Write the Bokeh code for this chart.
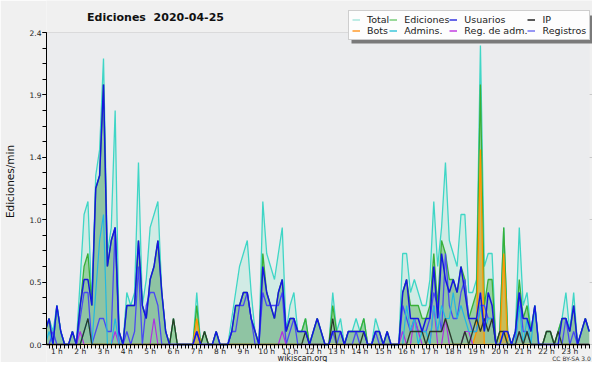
import numpy as np
from bokeh.plotting import figure
from bokeh.models import (Range1d, FixedTicker, Legend, LegendItem, Label, BoxAnnotation)
from bokeh.embed import file_html
from bokeh.resources import INLINE

# ---- data: edits/min in 10-minute bins, 0:00 .. 23:50 (one row per hour) ----
total = [
    0, 0, 0, 0.1, 0.2, 0.1,
    0.3, 0.1, 0, 0, 0.1, 0,
    0.5, 1.0, 1.1, 0.3, 1.3, 1.5,
    2.2, 0.7, 0.9, 1.8, 0.1, 0,
    0.4, 0.3, 0.4, 1.4, 0.3, 0.5,
    0.9, 1.0, 1.1, 0.4, 0.1, 0,
    0.2, 0, 0, 0, 0, 0,
    0.4, 0, 0.1, 0, 0, 0.1,
    0, 0, 0, 0.2, 0.4, 0.6,
    0.7, 0.8, 0.4, 0.1, 0, 1.1,
    0.7, 0.6, 0.5, 0.7, 0.9, 0.1,
    0.3, 0.4, 0.1, 0.1, 0.2, 0,
    0.1, 0.2, 0.1, 0, 0, 0.4,
    0.1, 0.2, 0, 0.1, 0.1, 0.2,
    0.1, 0.2, 0, 0, 0.2, 0.1,
    0, 0.1, 0, 0, 0, 0.7,
    0.7, 0.4, 0.5, 0.4, 0.3, 0.3,
    0.5, 1.1, 0.6, 0.9, 1.4, 0.8,
    0.7, 0.6, 1.0, 1.0, 0.4, 0.4,
    0.5, 2.3, 0.6, 0.7, 0.7, 0,
    0.1, 0.9, 0.1, 0, 0.1, 0.9,
    0.3, 0.4, 0.1, 0.3, 0, 0,
    0.1, 0.1, 0, 0.1, 0.2, 0.4,
    0.1, 0.4, 0, 0.1, 0.2, 0.1,
]
ediciones = [
    0, 0, 0, 0.1, 0.2, 0,
    0.3, 0.1, 0, 0, 0.1, 0,
    0.3, 0.6, 0.7, 0.3, 1.2, 1.3,
    2.0, 0.6, 0.8, 0.9, 0.1, 0,
    0.3, 0.3, 0.3, 0.8, 0.3, 0.2,
    0.5, 0.6, 0.8, 0.4, 0.1, 0,
    0.2, 0, 0, 0, 0, 0,
    0.3, 0, 0.1, 0, 0, 0.1,
    0, 0, 0, 0.1, 0.3, 0.3,
    0.4, 0.4, 0.2, 0.1, 0, 0.7,
    0.4, 0.3, 0.2, 0.4, 0.5, 0.1,
    0.2, 0.2, 0.1, 0.1, 0.2, 0,
    0.1, 0.2, 0.1, 0, 0, 0.3,
    0.1, 0.1, 0, 0.1, 0.1, 0.1,
    0.1, 0.2, 0, 0, 0.1, 0.1,
    0, 0.1, 0, 0, 0, 0.4,
    0.5, 0.3, 0.3, 0.3, 0.2, 0.2,
    0.3, 0.7, 0.3, 0.8, 0.7, 0.5,
    0.5, 0.4, 0.6, 0.5, 0.2, 0.3,
    0.4, 2.0, 0.3, 0.5, 0.5, 0,
    0.1, 0.9, 0.1, 0, 0.1, 0.5,
    0.2, 0.3, 0.1, 0.3, 0, 0,
    0.1, 0.1, 0, 0.1, 0.2, 0.2,
    0.1, 0.3, 0, 0.1, 0.2, 0.1,
]
usuarios = [
    0, 0, 0, 0.1, 0.2, 0,
    0.3, 0.1, 0, 0, 0.1, 0,
    0.3, 0.5, 0.5, 0.3, 1.2, 1.3,
    2.0, 0.6, 0.8, 0.9, 0.1, 0,
    0.3, 0.3, 0.3, 0.8, 0.3, 0.2,
    0.5, 0.6, 0.8, 0.4, 0.1, 0,
    0, 0, 0, 0, 0, 0,
    0.1, 0, 0, 0, 0, 0.1,
    0, 0, 0, 0.1, 0.3, 0.3,
    0.4, 0.4, 0.2, 0.1, 0, 0.6,
    0.4, 0.3, 0.2, 0.4, 0.5, 0.1,
    0.2, 0.2, 0.1, 0.1, 0.1, 0,
    0.1, 0.2, 0.1, 0, 0, 0.1,
    0.1, 0.1, 0, 0.1, 0.1, 0.1,
    0.1, 0.1, 0, 0, 0.1, 0.1,
    0, 0.1, 0, 0, 0, 0.4,
    0.5, 0.2, 0.2, 0.2, 0.1, 0.2,
    0.2, 0.6, 0.2, 0.7, 0.5, 0.4,
    0.5, 0.4, 0.6, 0.4, 0.2, 0.2,
    0.2, 0.4, 0.1, 0.4, 0.3, 0,
    0, 0.1, 0.1, 0, 0.1, 0.4,
    0.2, 0.2, 0.1, 0.3, 0, 0,
    0, 0, 0, 0, 0.2, 0.2,
    0.1, 0.3, 0, 0.1, 0.2, 0.1,
]
ip = [
    0, 0, 0, 0, 0, 0,
    0, 0, 0, 0, 0, 0,
    0, 0.1, 0.2, 0, 0, 0,
    0, 0, 0, 0, 0, 0,
    0, 0, 0, 0, 0, 0,
    0, 0, 0, 0, 0, 0,
    0.2, 0, 0, 0, 0, 0,
    0, 0, 0.1, 0, 0, 0,
    0, 0, 0, 0, 0, 0,
    0, 0, 0, 0, 0, 0,
    0, 0, 0, 0, 0, 0,
    0, 0, 0, 0, 0.1, 0,
    0, 0, 0, 0, 0, 0.2,
    0, 0, 0, 0, 0, 0,
    0, 0.1, 0, 0, 0, 0,
    0, 0, 0, 0, 0, 0,
    0, 0.1, 0.1, 0.1, 0.1, 0,
    0.1, 0.1, 0.1, 0.1, 0.2, 0.1,
    0, 0, 0, 0.1, 0, 0.1,
    0.2, 0.1, 0.2, 0.1, 0.2, 0,
    0.1, 0.1, 0, 0, 0, 0.1,
    0, 0.1, 0, 0, 0, 0,
    0.1, 0.1, 0, 0.1, 0, 0,
    0, 0, 0, 0, 0, 0,
]
bots = [
    0, 0, 0, 0, 0, 0,
    0, 0, 0, 0, 0, 0,
    0, 0, 0, 0, 0, 0,
    0, 0, 0, 0, 0, 0,
    0, 0, 0, 0, 0, 0,
    0, 0, 0, 0, 0, 0,
    0, 0, 0, 0, 0, 0,
    0.2, 0, 0, 0, 0, 0,
    0, 0, 0, 0, 0, 0,
    0, 0, 0, 0, 0, 0,
    0, 0, 0, 0, 0, 0,
    0, 0, 0, 0, 0, 0,
    0, 0, 0, 0, 0, 0,
    0, 0, 0, 0, 0, 0,
    0, 0, 0, 0, 0, 0,
    0, 0, 0, 0, 0, 0,
    0, 0, 0, 0, 0, 0,
    0, 0, 0, 0, 0, 0,
    0, 0, 0, 0, 0, 0,
    0.1, 1.5, 0, 0, 0, 0,
    0, 0.7, 0, 0, 0, 0,
    0, 0, 0, 0, 0, 0,
    0, 0, 0, 0, 0, 0,
    0, 0, 0, 0, 0, 0,
]
admins = [
    0, 0, 0, 0, 0.1, 0,
    0.3, 0.1, 0, 0, 0, 0,
    0, 0.1, 0.2, 0, 0.4, 0.8,
    1.0, 0, 0, 0.2, 0, 0,
    0, 0, 0, 0, 0, 0,
    0, 0, 0, 0, 0, 0,
    0, 0, 0, 0, 0, 0,
    0, 0, 0, 0, 0, 0,
    0, 0, 0, 0, 0, 0,
    0, 0, 0, 0, 0, 0,
    0, 0, 0, 0, 0, 0,
    0, 0, 0, 0, 0, 0,
    0, 0, 0, 0, 0, 0,
    0, 0, 0, 0, 0, 0,
    0, 0, 0, 0, 0, 0,
    0, 0, 0, 0, 0, 0,
    0.3, 0.1, 0.2, 0, 0.1, 0.1,
    0, 0.3, 0.1, 0.3, 0.2, 0.2,
    0.4, 0.2, 0.3, 0.2, 0.1, 0.1,
    0.1, 0.3, 0.1, 0.2, 0.2, 0,
    0, 0.1, 0, 0, 0, 0.3,
    0, 0.2, 0, 0.3, 0, 0,
    0, 0, 0, 0, 0, 0,
    0, 0, 0, 0, 0, 0,
]
reg_adm = [
    0, 0, 0, 0, 0, 0,
    0, 0, 0, 0, 0, 0,
    0.1, 0, 0, 0, 0, 0,
    0, 0, 0, 0.1, 0, 0,
    0, 0, 0, 0, 0, 0,
    0, 0.2, 0, 0, 0, 0,
    0, 0, 0, 0, 0, 0,
    0, 0, 0, 0, 0, 0,
    0, 0, 0, 0, 0, 0,
    0, 0, 0, 0, 0, 0,
    0, 0, 0, 0, 0.1, 0,
    0, 0, 0, 0, 0, 0,
    0, 0, 0, 0, 0, 0,
    0, 0, 0, 0, 0, 0,
    0, 0, 0, 0, 0, 0,
    0, 0, 0, 0, 0, 0.1,
    0, 0, 0.2, 0.1, 0, 0,
    0, 0.3, 0, 0, 0.2, 0,
    0, 0, 0, 0.1, 0.1, 0,
    0, 0, 0, 0, 0, 0,
    0, 0, 0, 0, 0, 0.1,
    0, 0, 0, 0, 0, 0,
    0, 0, 0, 0, 0, 0,
    0, 0, 0, 0, 0, 0,
]
registros = [
    0, 0, 0, 0, 0, 0.1,
    0, 0, 0, 0, 0, 0,
    0.2, 0.4, 0.4, 0, 0.1, 0.2,
    0.2, 0.1, 0.1, 0.9, 0, 0,
    0.1, 0, 0.1, 0.6, 0, 0.3,
    0.4, 0.4, 0.3, 0, 0, 0,
    0, 0, 0, 0, 0, 0,
    0.1, 0, 0, 0, 0, 0,
    0, 0, 0, 0.1, 0.1, 0.3,
    0.3, 0.4, 0.2, 0, 0, 0.4,
    0.3, 0.3, 0.3, 0.3, 0.4, 0,
    0.1, 0.2, 0, 0, 0, 0,
    0, 0, 0, 0, 0, 0.1,
    0, 0.1, 0, 0, 0, 0.1,
    0, 0, 0, 0, 0.1, 0,
    0, 0, 0, 0, 0, 0.3,
    0.2, 0.1, 0.2, 0.1, 0.1, 0.1,
    0.2, 0.4, 0.3, 0.1, 0.7, 0.3,
    0.2, 0.2, 0.4, 0.5, 0.2, 0.1,
    0.1, 0.3, 0.3, 0.2, 0.2, 0,
    0, 0, 0, 0, 0, 0.4,
    0.1, 0.1, 0, 0, 0, 0,
    0, 0, 0, 0, 0, 0.2,
    0, 0.1, 0, 0, 0, 0,
]

hours = list(range(1, 24))
hour_labels = [f"{h} h" for h in hours]
y_ticks = [0, 0.48, 0.96, 1.44, 1.92, 2.4]
y_tick_labels = ["0.0", "0.5", "1.0", "1.4", "1.9", "2.4"]
legend_labels = ["Total", "Ediciones", "Usuarios", "IP",
                 "Bots", "Admins.", "Reg. de adm.", "Registros"]
legend_colors = ["#a8e6dc", "#78cc78", "#3434e0", "#222222",
                 "#ff9a2a", "#3cc6da", "#c23ee0", "#7474f0"]

t = np.arange(len(total)) / 6.0  # hours

FONT = "DejaVu Sans"
X0, X1 = 0.555, 23.85     # visible time span (hours)
Y0, Y1 = 0.0, 2.4         # value span

W, H = 592, 362
PX_PER_H = 23.4
PX_PER_U = 130.0
LEFT = 44
p = figure(width=W, height=H, output_backend="svg", toolbar_location=None,
           x_range=Range1d(X0, X0 + (W - LEFT) / PX_PER_H),
           y_range=Range1d(-(H - 344) / PX_PER_U, Y1 + 32 / PX_PER_U),
           min_border_left=LEFT, min_border_right=0, min_border_top=0,
           min_border_bottom=0, title=None)
p.background_fill_color = "#f0f0f0"
p.border_fill_color = "#f0f0f0"
p.outline_line_color = None

# plot area background
p.add_layout(BoxAnnotation(left=X0, right=X1, bottom=Y0, top=Y1,
                           fill_color="#ebecee", fill_alpha=1,
                           line_color=None, level="underlay"))

# areas
p.varea(x=t, y1=0, y2=total, fill_color="#c8ebe2", fill_alpha=0.75)
p.varea(x=t, y1=0, y2=ediciones, fill_color="#62b862", fill_alpha=0.5)
p.varea(x=t, y1=0, y2=usuarios, fill_color="#4a6fa5", fill_alpha=0.12)
p.varea(x=t, y1=0, y2=bots, fill_color="#ffa500", fill_alpha=0.45)

# lines
p.line(t, total, line_color="#3fd6c6", line_width=1.3)
p.line(t, ediciones, line_color="#38b038", line_width=1.3)
p.line(t, bots, line_color="#ff9600", line_width=1.3)
p.line(t, registros, line_color="#4a4af2", line_width=1.3)
p.line(t, reg_adm, line_color="#b030e0", line_width=1.2)
p.line(t, admins, line_color="#22b8e2", line_width=1.2)
p.line(t, ip, line_color="#2a3a2a", line_width=1.3)
p.line(t, usuarios, line_color="#1616e0", line_width=1.5)

# axes
xa = p.xaxis[0]
xa.fixed_location = 0
xa.bounds = (X0, X1)
xa.ticker = FixedTicker(ticks=hours, minor_ticks=list(t) + [24.0])
xa.major_label_overrides = dict(zip(hours, hour_labels))
ya = p.yaxis[0]
ya.bounds = (Y0, Y1)
ya.ticker = FixedTicker(ticks=y_ticks, minor_ticks=[i * 0.12 for i in range(21)])
ya.major_label_overrides = dict(zip(y_ticks, y_tick_labels))
ya.axis_label = "Ediciones/min"
ya.axis_label_text_font = FONT
ya.axis_label_text_font_size = "10.5px"
ya.axis_label_text_font_style = "normal"
ya.axis_label_text_color = "#111111"
ya.axis_label_standoff = 11
for ax in (xa, ya):
    ax.axis_line_color = "#000000"
    ax.major_tick_line_color = "#000000"
    ax.minor_tick_line_color = "#000000"
    ax.major_tick_in = 0
    ax.minor_tick_in = 0
    ax.major_tick_out = 4
    ax.minor_tick_out = 4
    ax.major_label_text_font = FONT
    ax.major_label_text_font_size = "7.5px"
    ax.major_label_text_color = "#222222"
    ax.major_label_standoff = 1
xa.major_label_standoff = -2
p.xgrid.grid_line_color = None
p.ygrid.grid_line_color = "#c8c8c8"
p.ygrid.grid_line_width = 1

# legend with drop shadow
LEG_X, LEG_Y, LEG_W, LEG_H = 302, H - 40, 244, 28
p.add_layout(BoxAnnotation(left=LEG_X + 3, right=LEG_X + 3 + LEG_W,
                           bottom=LEG_Y - 3, top=LEG_Y - 3 + LEG_H,
                           left_units="screen", right_units="screen",
                           bottom_units="screen", top_units="screen",
                           fill_color="#7a7a7a", fill_alpha=1, line_color=None))
items = []
for lab, col in zip(legend_labels, legend_colors):
    r = p.line(x=[np.nan], y=[np.nan], line_color=col, line_width=1.5)
    items.append(LegendItem(label=lab, renderers=[r]))
lg = Legend(items=items, location=(LEG_X, LEG_Y), orientation="horizontal", ncols=4)
lg.background_fill_color = "#fdfdfd"
lg.background_fill_alpha = 1
lg.border_line_color = "#a0a0a0"
lg.label_text_font = FONT
lg.label_text_font_size = "9.5px"
lg.label_text_line_height = 0.85
lg.label_text_color = "#222222"
lg.glyph_width = 8
lg.glyph_height = 7
lg.label_height = 7
lg.label_standoff = 7
lg.spacing = 0
lg.padding = 3
lg.margin = 0
p.add_layout(lg)

# texts
p.add_layout(Label(x=153 - LEFT, y=H - 17, x_units="screen", y_units="screen",
                   text="Ediciones\u00a0 2020-04-25", text_font=FONT,
                   text_font_size="11px", text_font_style="bold",
                   text_align="center", text_baseline="middle",
                   text_color="#111111"))
p.add_layout(Label(x=300 - LEFT, y=4, x_units="screen", y_units="screen",
                   text="wikiscan.org", text_font=FONT, text_font_size="8px",
                   text_align="center", text_baseline="middle",
                   text_color="#222222"))
p.add_layout(Label(x=569 - LEFT, y=4, x_units="screen", y_units="screen",
                   text="CC BY-SA 3.0", text_font=FONT, text_font_size="6px",
                   text_align="center", text_baseline="middle",
                   text_color="#333333"))

open("out.html", "w").write(file_html(p, INLINE))
